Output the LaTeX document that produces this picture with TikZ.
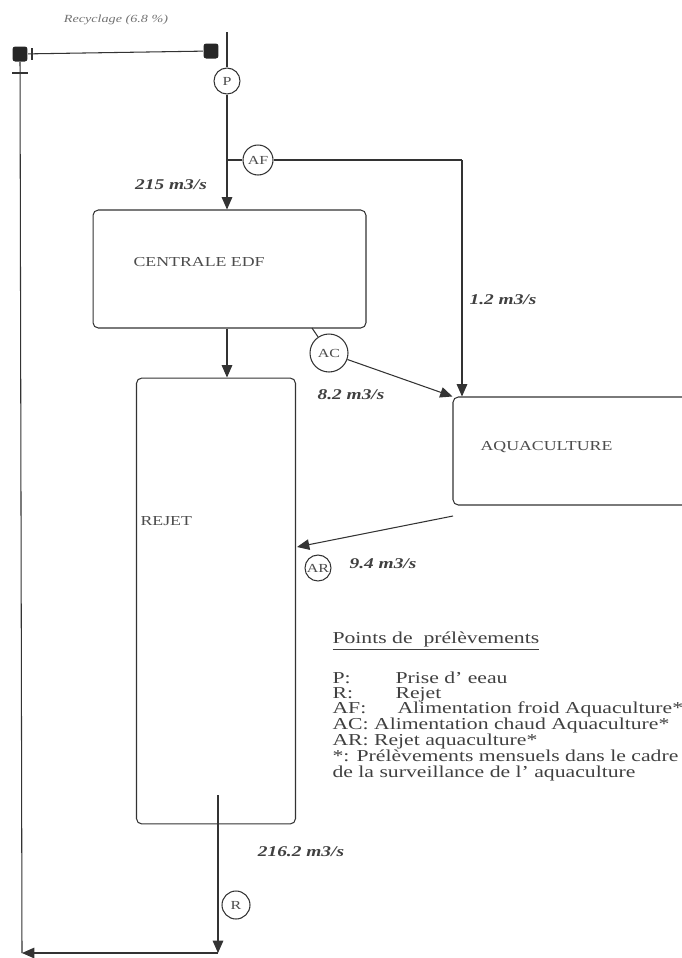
\documentclass[tikz,border=0pt]{standalone}
\usepackage{fontspec}
\setmainfont{Liberation Serif}[FakeStretch=1.3]
\usepackage{tikz}
\usetikzlibrary{arrows.meta}

\tikzset{
	box/.style={draw=black!80, rounded corners=3pt, line width=0.6pt, inner sep=0pt},
	point/.style={draw=black!80, circle, line width=0.6pt, inner sep=0pt, text=black!70, font=\fontsize{7}{7}\selectfont},
	flow/.style={-{Triangle[length=7pt,width=6pt]}},
	rate/.style={text=black!75, font=\fontsize{8.5}{9}\selectfont\bfseries\itshape},
	boxtext/.style={anchor=west, inner sep=0pt, text=black!70, font=\fontsize{7.8}{9}\selectfont},
	legend/.style={anchor=base west, inner sep=0pt, text=black!75, font=\fontsize{9.5}{10}\selectfont},
	valve/.style={fill=black!85, rounded corners=1.5pt, minimum size=0.3cm, inner sep=0pt},
}

\begin{document}
\begin{tikzpicture}[x=0.02cm, y=-0.02cm, line width=0.6pt, draw=black!80]
				\useasboundingbox (0,0) rectangle (682,958);
				
				\node[box, minimum width=5.46cm, minimum height=2.36cm] (centrale) at (229.5,269) {};
				\node[boxtext] (centraletxt) at (133,262) {CENTRALE EDF};
				
				\node[box, minimum width=3.18cm, minimum height=8.92cm] (rejet) at (216,601) {};
				\node[boxtext] (rejettxt) at (140,521) {REJET};
				
				\node[box, minimum width=4.9cm, minimum height=2.16cm] (aqua) at (575.5,451) {};
				\node[boxtext] (aquatxt) at (480,447) {AQUACULTURE};
				
				\node[point, minimum size=0.52cm] (P) at (227,81) {P};
				\node[point, minimum size=0.6cm] (AF) at (258,160) {AF};
				\node[point, minimum size=0.76cm] (AC) at (329,353) {AC};
				\node[point, minimum size=0.52cm] (AR) at (318,568) {AR};
				\node[point, minimum size=0.56cm] (R) at (236,905) {R};
				
				\node[valve] (valveL) at (20,54) {};
				\node[valve] (valveR) at (211,51) {};
				
				\coordinate (intake) at (227,32);
				\coordinate (afsplit) at (227,160);
				\coordinate (afcorner) at (462,160);
				\coordinate (acstart) at (312,328);
				\coordinate (arstart) at (453,516);
				\coordinate (arend) at (297,547);
				\coordinate (rout) at (218,795);
				\coordinate (rbottom) at (218,953);
				\coordinate (lbottom) at (22,953);
				
				\draw (intake) -- (P);
				\draw[flow] (P) -- (P |- centrale.north);
				\draw (afsplit) -- (AF) -- (afcorner);
				\draw[flow] (afcorner) -- (afcorner |- aqua.north);
				\draw[flow] (centrale.south -| P) -- (P |- rejet.north);
				\draw (acstart) -- (AC);
				\draw[flow] (AC) -- (aqua.north west);
				\draw[flow] (arstart) -- (arend);
				\draw[flow] (rout) -- (rbottom);
				\draw[flow] (rbottom) -- (lbottom);
				\draw (lbottom) -- (valveL);
				\draw (valveL) -- (valveR);
				\draw[line width=1.2pt] (12,73) -- (28,73);
				\draw (32,48) -- (32,60);
				
				\node[text=black!55, font=\fontsize{6.2}{6}\selectfont\itshape] (recyc) at (116,20) {Recyclage (6.8 \%)};
				\node[rate] (q215) at (171,185) {215 m3/s};
				\node[rate] (q12) at (503,300) {1.2 m3/s};
				\node[rate] (q82) at (351,395) {8.2 m3/s};
				\node[rate] (q94) at (383,564) {9.4 m3/s};
				\node[rate] (q2162) at (301,852) {216.2 m3/s};
				
				\node[legend] (lgtitle) at (332,643) {\underline{Points de\ \ prélèvements}};
				\node[legend] (lgP) at (332,683) {P:};
				\node[legend] (lgPtxt) at (395,683) {Prise d' eeau};
				\node[legend] (lgR) at (332,698) {R:};
				\node[legend] (lgRtxt) at (395,698) {Rejet};
				\node[legend] (lgAF) at (332,713) {AF:};
				\node[legend] (lgAFtxt) at (397,713) {Alimentation froid Aquaculture*};
				\node[legend] (lgAC) at (332,729) {AC: Alimentation chaud Aquaculture*};
				\node[legend] (lgAR) at (332,745) {AR: Rejet aquaculture*};
				\node[legend] (lgnote) at (332,761) {*: Prélèvements mensuels dans le cadre};
				\node[legend] (lgnote2) at (332,777) {de la surveillance de l' aquaculture};
			\end{tikzpicture}
\end{document}
